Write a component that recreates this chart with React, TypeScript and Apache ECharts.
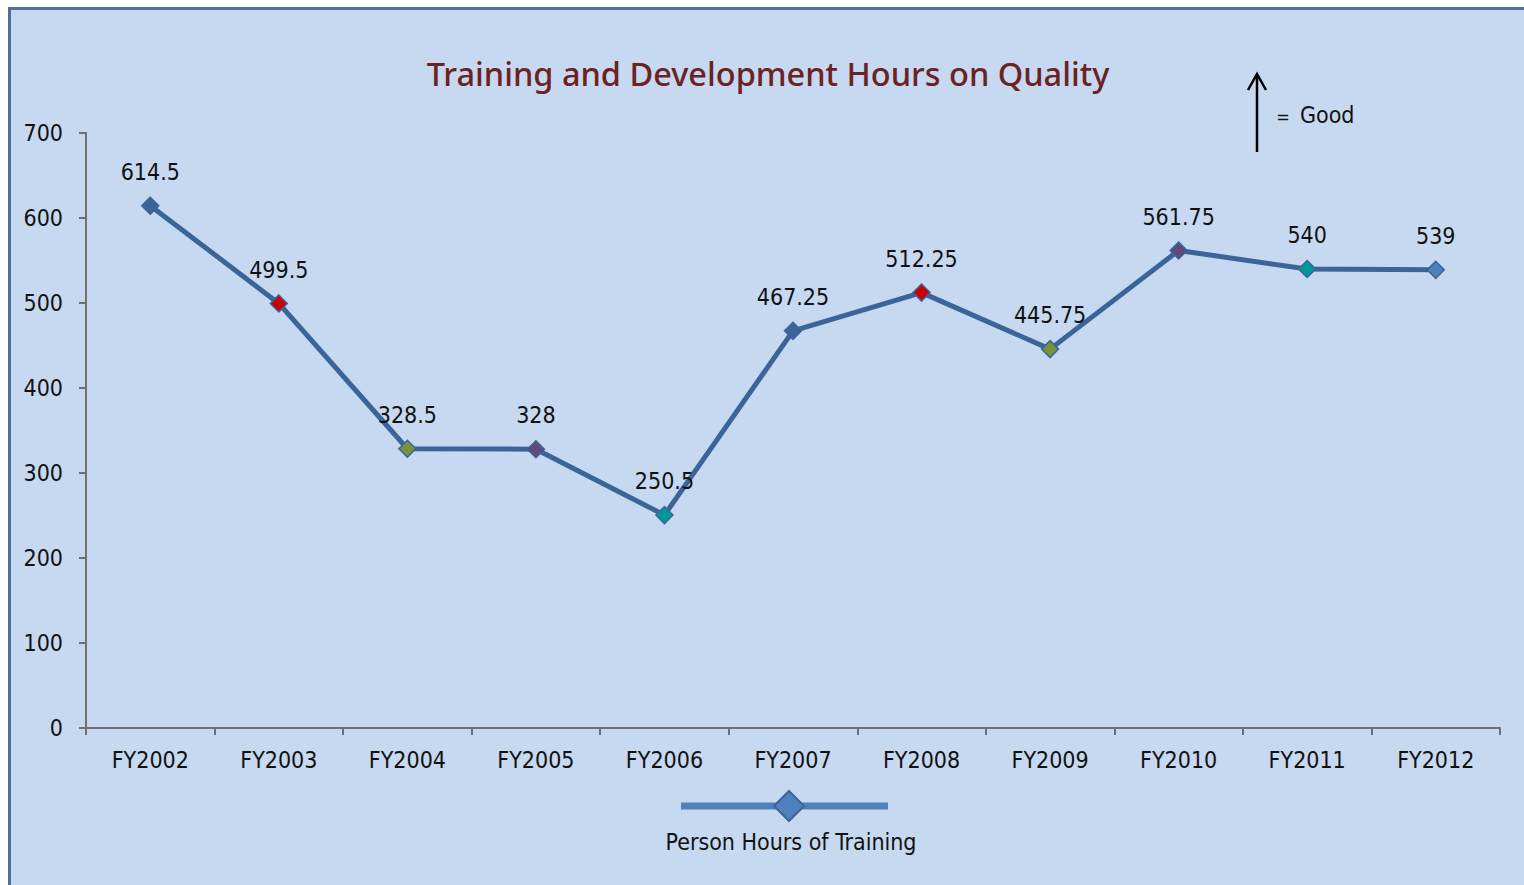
import React, { useEffect, useRef } from "react";
import * as echarts from "echarts";

const categories = ["FY2002", "FY2003", "FY2004", "FY2005", "FY2006", "FY2007", "FY2008", "FY2009", "FY2010", "FY2011", "FY2012"];
const hours = [614.5, 499.5, 328.5, 328, 250.5, 467.25, 512.25, 445.75, 561.75, 540, 539];
const labels = ["614.5", "499.5", "328.5", "328", "250.5", "467.25", "512.25", "445.75", "561.75", "540", "539"];
const markerColors = ["#3b6599", "#cc0000", "#77933c", "#604a7b", "#009999", "#3b6599", "#cc0000", "#77933c", "#604a7b", "#009999", "#4f81bd"];
const yTicks = { min: 0, max: 700, interval: 100 };

const TITLE = "Training and Development Hours on Quality";
const SERIES_NAME = "Person Hours of Training";
const FONT = "'Liberation Sans Narrow', 'Arial Narrow', 'DejaVu Sans Condensed', sans-serif";
const FS = 23;

export default function App() {
  const ref = useRef<HTMLDivElement>(null);
  useEffect(() => {
    if (!ref.current) return;
    const chart = echarts.init(ref.current, null, { renderer: "svg" });
    chart.setOption({
      animation: false,
      backgroundColor: "transparent",
      textStyle: { fontFamily: FONT },
      grid: { left: 86, right: 24, top: 133, bottom: 157 },
      xAxis: {
        type: "category",
        data: categories,
        boundaryGap: true,
        axisLine: { lineStyle: { color: "#707070", width: 2 } },
        axisTick: { show: true, length: 7, lineStyle: { color: "#707070", width: 2 } },
        axisLabel: { color: "#111", fontSize: FS, fontFamily: FONT, margin: 20 },
        splitLine: { show: false },
      },
      yAxis: {
        type: "value",
        min: yTicks.min,
        max: yTicks.max,
        interval: yTicks.interval,
        axisLine: { show: true, lineStyle: { color: "#707070", width: 2 } },
        axisTick: { show: true, length: 7, lineStyle: { color: "#707070", width: 2 } },
        axisLabel: { color: "#111", fontSize: FS, fontFamily: FONT, margin: 23 },
        splitLine: { show: false },
      },
      series: [
        {
          name: SERIES_NAME,
          type: "line",
          data: hours.map((v, i) => ({
            value: v,
            itemStyle: { color: markerColors[i], borderColor: "#3b6599", borderWidth: 1.5 },
          })),
          symbol: "diamond",
          symbolSize: 17,
          lineStyle: { color: "#3b6599", width: 5 },
          label: {
            show: true,
            position: "top",
            distance: 13,
            color: "#111",
            fontSize: FS,
            fontFamily: FONT,
            formatter: (p: any) => labels[p.dataIndex],
          },
        },
      ],
      graphic: [
        {
          type: "text",
          x: 768,
          y: 73,
          style: {
            text: TITLE,
            fill: "#6b2222",
            font: "500 32.5px 'Noto Sans', sans-serif",
            align: "center",
            verticalAlign: "middle",
          },
        },
        {
          type: "line",
          shape: { x1: 1257, y1: 152, x2: 1257, y2: 75 },
          style: { stroke: "#000", lineWidth: 2.5 },
        },
        {
          type: "polyline",
          shape: { points: [[1248, 90], [1257, 74], [1266, 90]] },
          style: { stroke: "#000", lineWidth: 2.5, fill: "none" },
        },
        {
          type: "text",
          x: 1283,
          y: 116,
          style: { text: "=", fill: "#111", font: `18px ${FONT}`, align: "center", verticalAlign: "middle" },
        },
        {
          type: "text",
          x: 1300,
          y: 115,
          style: { text: "Good", fill: "#111", font: `${FS}px ${FONT}`, align: "left", verticalAlign: "middle" },
        },
        {
          type: "line",
          shape: { x1: 681, y1: 806, x2: 888, y2: 806 },
          style: { stroke: "#4f81bd", lineWidth: 7 },
        },
        {
          type: "polygon",
          shape: { points: [[789, 791], [804, 806], [789, 821], [774, 806]] },
          style: { fill: "#4f81bd", stroke: "#3b6599", lineWidth: 2 },
        },
        {
          type: "text",
          x: 791,
          y: 842,
          style: { text: SERIES_NAME, fill: "#111", font: `${FS}px ${FONT}`, align: "center", verticalAlign: "middle" },
        },
      ],
    });
    return () => chart.dispose();
  }, []);

  return (
    <div style={{ position: "fixed", left: 0, top: 0, width: 1524, height: 885, overflow: "hidden", background: "#fff" }}>
      <div
        style={{
          position: "absolute",
          left: 8,
          top: 7,
          width: 1600,
          height: 1000,
          background: "#c6d9f1",
          borderLeft: "3px solid #4f6f9f",
          borderTop: "3px solid #4f6f9f",
        }}
      />
      <div ref={ref} style={{ position: "absolute", left: 0, top: 0, width: 1524, height: 885 }} />
    </div>
  );
}
